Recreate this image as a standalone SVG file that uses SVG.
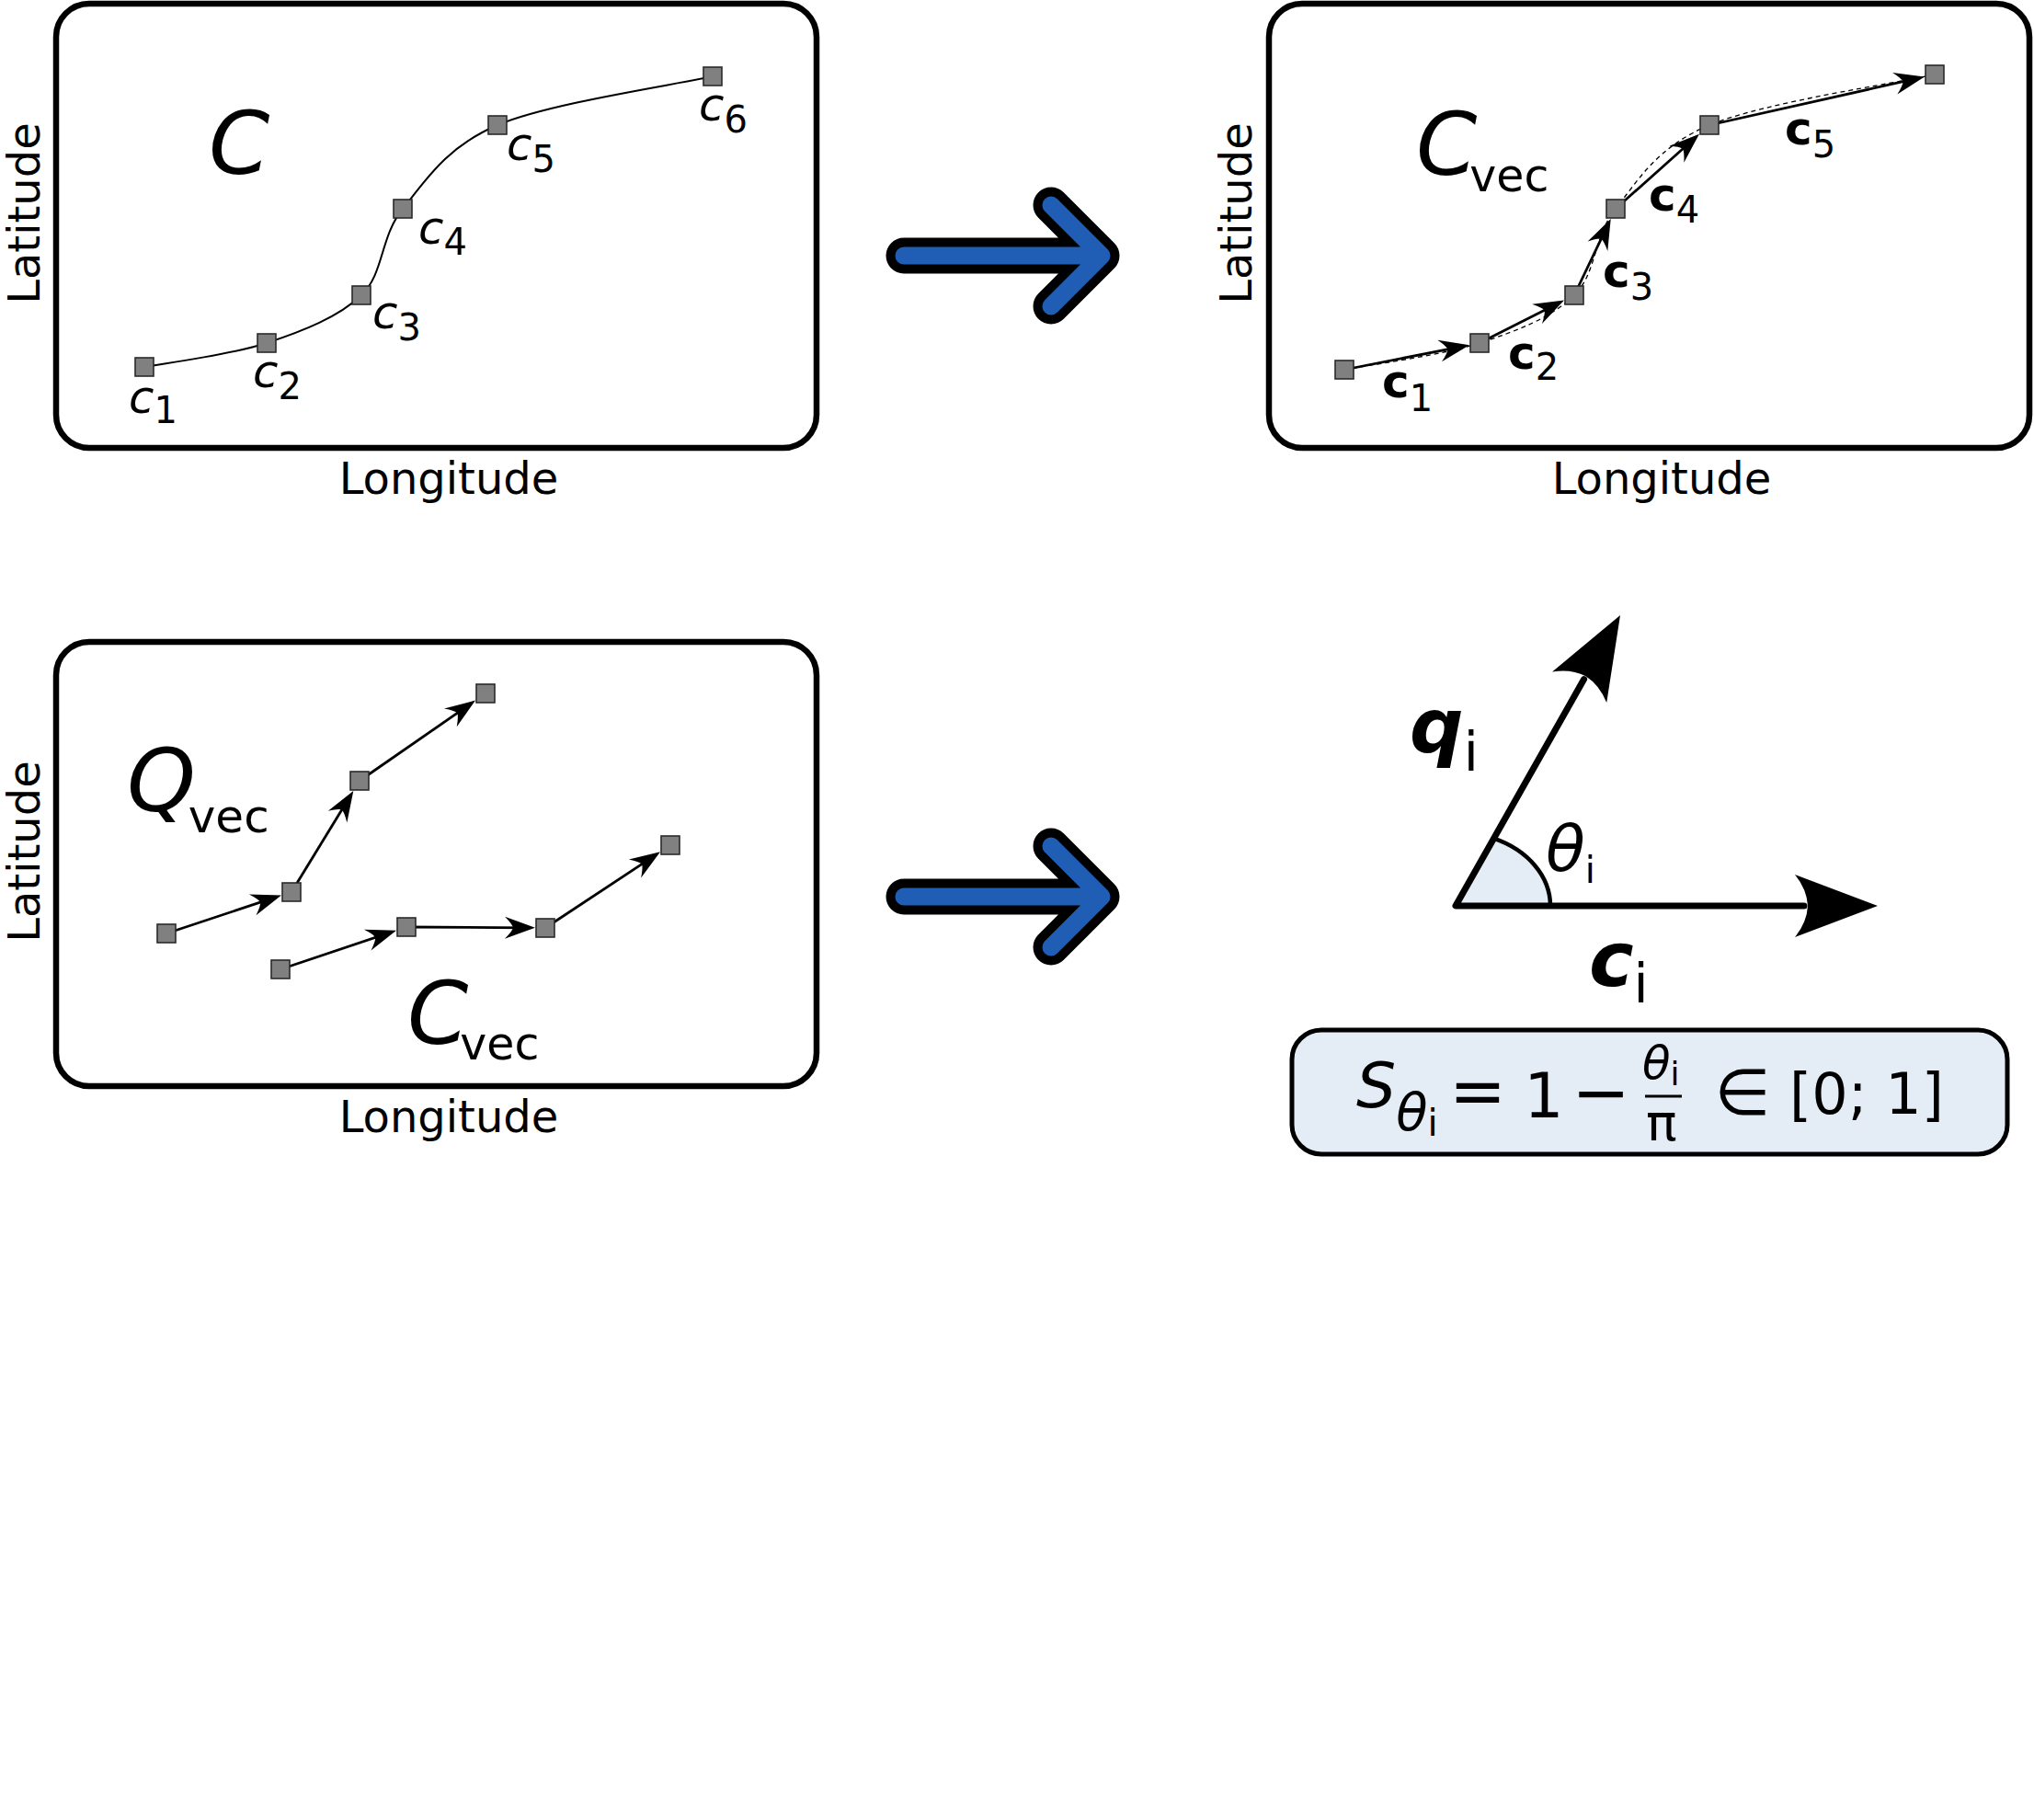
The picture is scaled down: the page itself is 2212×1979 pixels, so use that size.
<svg xmlns="http://www.w3.org/2000/svg" width="2212" height="1979" viewBox="0 0 2212 1979">
<style>
text{font-family:"DejaVu Sans","Liberation Sans",sans-serif;fill:#000}
.ax{font-size:48px}
.it{font-style:italic}
.bd{font-weight:bold}
.panel{fill:none;stroke:#000;stroke-width:6.5}
.nd{fill:#808080;stroke:#2a2a2a;stroke-width:1.6}
.vec{fill:none;stroke:#000;stroke-width:2.8;marker-end:url(#ah)}
.blueO{fill:none;stroke:#000;stroke-width:39;stroke-linecap:round;stroke-linejoin:round}
.blueI{fill:none;stroke:#1f5eb4;stroke-width:19;stroke-linecap:round;stroke-linejoin:round}
</style>
<defs>
<marker id="ah" viewBox="-26 -13 38 26" markerWidth="38" markerHeight="26" refX="0" refY="0" orient="auto" markerUnits="userSpaceOnUse">
<path d="M10,0 L-23,-12 Q-15,-4 -14,0 Q-15,4 -23,12 Z" fill="#000"/>
</marker>
<path id="bighead" d="M0,0 L-90,-34 Q-77,-18 -76,0 Q-77,18 -90,34 Z" fill="#000"/>
</defs>
<rect width="2212" height="1979" fill="#fff"/>

<!-- Panel 1 -->
<g id="panel1">
<rect class="panel" x="61" y="4" width="827" height="483" rx="36"/>
<text class="ax" transform="translate(43,232) rotate(-90)" text-anchor="middle">Latitude</text>
<text class="ax" x="488" y="537" text-anchor="middle">Longitude</text>
<text class="it" x="227" y="189" font-size="95">C</text>
</g>
<!-- Panel 2 -->
<g id="panel2">
<rect class="panel" x="1380" y="4" width="827" height="483" rx="36"/>
<text class="ax" transform="translate(1361,232) rotate(-90)" text-anchor="middle">Latitude</text>
<text class="ax" x="1807" y="537" text-anchor="middle">Longitude</text>
<text class="it" x="1540" y="190" font-size="95">C<tspan font-style="normal" font-size="49" dx="-8" dy="18">vec</tspan></text>
</g>
<!-- Panel 3 -->
<g id="panel3">
<rect class="panel" x="61" y="698" width="827" height="483" rx="36"/>
<text class="ax" transform="translate(43,926) rotate(-90)" text-anchor="middle">Latitude</text>
<text class="ax" x="488" y="1231" text-anchor="middle">Longitude</text>
<text class="it" x="138" y="882" font-size="95">Q<tspan font-style="normal" font-size="50" dx="-8" dy="23">vec</tspan></text>
<text class="it" x="443" y="1135" font-size="95">C<tspan font-style="normal" font-size="49" dx="-9" dy="17">vec</tspan></text>
</g>

<!-- Connectors -->
<g id="connectors">
<path d="M157,399 C179,395 251,386 290,373 C329,360 368,345 393,321 C418,297 413,258 438,227 C463,196 485,160 541,136 C597,112 736,92 775,83" fill="none" stroke="#000" stroke-width="2"/>
<path d="M1462,402 C1486.5,397.2 1567.3,386.5 1609,373 C1650.7,359.5 1687.3,345.3 1712,321 C1736.7,296.7 1732.5,257.8 1757,227 C1781.5,196.2 1801.2,160.3 1859,136 C1916.8,111.7 2063.2,90.2 2104,81" fill="none" stroke="#000" stroke-width="1.3" stroke-dasharray="5 4"/>
<line class="vec" x1="1462" y1="402" x2="1588.2" y2="377.1"/>
<line class="vec" x1="1609" y1="373" x2="1692.1" y2="331.0"/>
<line class="vec" x1="1712" y1="321" x2="1747.4" y2="247.0"/>
<line class="vec" x1="1757" y1="227" x2="1840.5" y2="152.5"/>
<line class="vec" x1="1859" y1="136" x2="2083.2" y2="85.7"/>
<line class="vec" x1="181" y1="1015" x2="296.5" y2="976.7"/>
<line class="vec" x1="317" y1="970" x2="379.1" y2="868.5"/>
<line class="vec" x1="391" y1="849" x2="508.8" y2="767.3"/>
<line class="vec" x1="305" y1="1054" x2="421.5" y2="1014.9"/>
<line class="vec" x1="442" y1="1008" x2="572" y2="1008.8"/>
<line class="vec" x1="593" y1="1009" x2="709.7" y2="931.8"/>
<path class="blueO" d="M983,278 H1198 M1143,223 L1198,278 L1143,333"/>
<path class="blueI" d="M983,278 H1198 M1143,223 L1198,278 L1143,333"/>
<path class="blueO" d="M983,975 H1198 M1143,920 L1198,975 L1143,1030"/>
<path class="blueI" d="M983,975 H1198 M1143,920 L1198,975 L1143,1030"/>
</g>

<!-- Panel 1 nodes -->
<g id="p1-c1"><rect class="nd" x="147" y="389" width="20" height="20"/><text class="it" x="140" y="449" font-size="50">c<tspan font-style="normal" font-size="40" dy="11">1</tspan></text></g>
<g id="p1-c2"><rect class="nd" x="280" y="363" width="20" height="20"/><text class="it" x="275" y="421" font-size="50">c<tspan font-style="normal" font-size="40" dy="13">2</tspan></text></g>
<g id="p1-c3"><rect class="nd" x="383" y="311" width="20" height="20"/><text class="it" x="405" y="357" font-size="50">c<tspan font-style="normal" font-size="40" dy="13">3</tspan></text></g>
<g id="p1-c4"><rect class="nd" x="428" y="217" width="20" height="20"/><text class="it" x="455" y="265" font-size="50">c<tspan font-style="normal" font-size="40" dy="12">4</tspan></text></g>
<g id="p1-c5"><rect class="nd" x="531" y="126" width="20" height="20"/><text class="it" x="551" y="174" font-size="50">c<tspan font-style="normal" font-size="40" dy="13">5</tspan></text></g>
<g id="p1-c6"><rect class="nd" x="765" y="73" width="20" height="20"/><text class="it" x="760" y="131" font-size="50">c<tspan font-style="normal" font-size="40" dy="13">6</tspan></text></g>

<!-- Panel 2 nodes -->
<g id="p2-n1"><rect class="nd" x="1452" y="392" width="20" height="20"/><text class="bd" x="1503" y="432" font-size="50">c<tspan font-weight="normal" font-size="40" dy="15">1</tspan></text></g>
<g id="p2-n2"><rect class="nd" x="1599" y="363" width="20" height="20"/><text class="bd" x="1640" y="401" font-size="50">c<tspan font-weight="normal" font-size="40" dy="12">2</tspan></text></g>
<g id="p2-n3"><rect class="nd" x="1702" y="311" width="20" height="20"/><text class="bd" x="1743" y="312" font-size="50">c<tspan font-weight="normal" font-size="40" dy="14">3</tspan></text></g>
<g id="p2-n4"><rect class="nd" x="1747" y="217" width="20" height="20"/><text class="bd" x="1793" y="229" font-size="50">c<tspan font-weight="normal" font-size="40" dy="13">4</tspan></text></g>
<g id="p2-n5"><rect class="nd" x="1849" y="126" width="20" height="20"/><text class="bd" x="1941" y="157" font-size="50">c<tspan font-weight="normal" font-size="40" dy="14">5</tspan></text></g>
<g id="p2-n6"><rect class="nd" x="2094" y="71" width="20" height="20"/></g>

<!-- Panel 3 nodes -->
<g id="p3-q1"><rect class="nd" x="171" y="1005" width="20" height="20"/></g>
<g id="p3-q2"><rect class="nd" x="307" y="960" width="20" height="20"/></g>
<g id="p3-q3"><rect class="nd" x="381" y="839" width="20" height="20"/></g>
<g id="p3-q4"><rect class="nd" x="518" y="744" width="20" height="20"/></g>
<g id="p3-c1"><rect class="nd" x="295" y="1044" width="20" height="20"/></g>
<g id="p3-c2"><rect class="nd" x="432" y="998" width="20" height="20"/></g>
<g id="p3-c3"><rect class="nd" x="583" y="999" width="20" height="20"/></g>
<g id="p3-c4"><rect class="nd" x="719" y="909" width="20" height="20"/></g>

<!-- Panel 4: angle -->
<g id="angle">
<path d="M1583,985 L1686,985 A103,80 0 0 0 1624.5,911.7 Z" fill="#e4ecf6"/>
<path d="M1722.6,738.6 L1583,985 L1962,985" fill="none" stroke="#000" stroke-width="7" stroke-linejoin="round" stroke-linecap="round"/>
<path d="M1686,985 A103,80 0 0 0 1624.5,911.7" fill="none" stroke="#000" stroke-width="4.5"/>
<use href="#bighead" transform="translate(2042,985)"/>
<use href="#bighead" transform="translate(1762,669) rotate(-60.47)"/>
<text class="bd it" x="1533" y="818" font-size="82">q<tspan font-weight="normal" font-style="normal" font-size="58" dy="20">i</tspan></text>
<text class="it" x="1681" y="947" font-size="70">θ<tspan font-style="normal" font-size="40" dy="13">i</tspan></text>
<text class="bd it" x="1728" y="1072" font-size="82">c<tspan font-weight="normal" font-style="normal" font-size="58" dy="18">i</tspan></text>
</g>

<!-- Formula box -->
<g id="formula">
<rect x="1405" y="1120" width="778" height="135" rx="32" fill="#e4ecf6" stroke="#000" stroke-width="5"/>
<text class="it" x="1475" y="1204" font-size="68">S<tspan font-size="56" dy="25">θ</tspan><tspan font-style="normal" font-size="40" dy="6">i</tspan></text>
<text x="1607" y="1212" font-size="74" text-anchor="middle">=</text>
<text x="1679" y="1215" font-size="68" text-anchor="middle">1</text>
<text x="1741" y="1214" font-size="76" text-anchor="middle">−</text>
<text class="it" x="1786" y="1173" font-size="50">θ<tspan font-style="normal" font-size="36" dy="7">i</tspan></text>
<line x1="1789" y1="1192" x2="1829" y2="1192" stroke="#000" stroke-width="3"/>
<text x="1790" y="1240" font-size="56">π</text>
<text x="1895" y="1212" font-size="70" text-anchor="middle">∈</text>
<text x="1946" y="1211" font-size="62">[0; 1]</text>
</g>
</svg>
